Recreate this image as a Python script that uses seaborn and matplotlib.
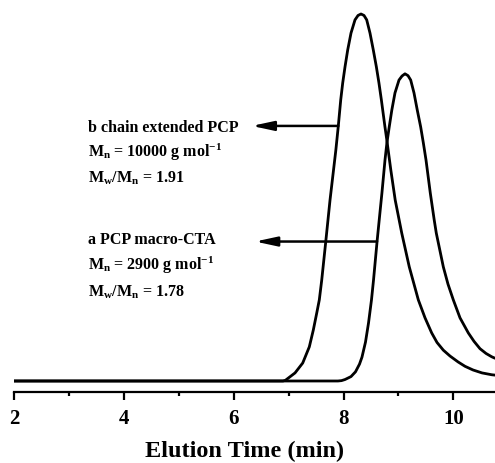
"""
GPC traces of PCP macro-CTA (a) and chain extended PCP (b).
"""

import matplotlib
matplotlib.use("Agg")
import matplotlib.pyplot as plt
import seaborn as sns
import pandas as pd

# --- data (normalised RI signal) ---
b_time = [2.0, 6.898, 6.943, 6.995, 7.117, 7.257, 7.377, 7.450, 7.512, 7.559, 7.603,
          7.676, 7.754, 7.860, 7.905, 7.949, 7.985, 8.027, 8.076, 8.136, 8.209, 8.264,
          8.318, 8.373, 8.422, 8.482, 8.542, 8.598, 8.645, 8.689, 8.752, 8.788, 8.861,
          8.941, 9.060, 9.197, 9.362, 9.484, 9.605, 9.702, 9.817, 9.939, 10.085, 10.212,
          10.358, 10.522, 10.698, 10.758]
b_signal = [0.0, 0.0, 0.002, 0.008, 0.022, 0.049, 0.093, 0.139, 0.185, 0.221, 0.275,
            0.379, 0.493, 0.629, 0.695, 0.766, 0.812, 0.856, 0.902, 0.948, 0.984, 0.996,
            1.0, 0.996, 0.984, 0.948, 0.902, 0.856, 0.812, 0.766, 0.695, 0.657, 0.575,
            0.493, 0.403, 0.311, 0.221, 0.172, 0.131, 0.105, 0.084, 0.068, 0.052, 0.040,
            0.030, 0.022, 0.017, 0.016]

a_time = [2.0, 7.899, 7.963, 8.027, 8.136, 8.218, 8.291, 8.336, 8.400, 8.455, 8.509,
          8.546, 8.610, 8.668, 8.699, 8.755, 8.790, 8.832, 8.879, 8.937, 9.010, 9.065,
          9.119, 9.174, 9.223, 9.283, 9.343, 9.405, 9.453, 9.502, 9.580, 9.651, 9.689,
          9.817, 9.902, 9.999, 10.121, 10.272, 10.376, 10.485, 10.595, 10.698, 10.758]
a_signal = [0.0, 0.0, 0.001, 0.004, 0.012, 0.025, 0.046, 0.065, 0.106, 0.158, 0.221,
            0.275, 0.379, 0.466, 0.512, 0.602, 0.649, 0.692, 0.738, 0.785, 0.820, 0.831,
            0.837, 0.832, 0.820, 0.785, 0.738, 0.692, 0.649, 0.602, 0.512, 0.439, 0.403,
            0.311, 0.264, 0.221, 0.172, 0.131, 0.108, 0.088, 0.075, 0.066, 0.062]

x_ticks = [2, 4, 6, 8, 10]
x_minor = [3, 5, 7, 9]

label_b = ["b chain extended PCP",
           r"M$_\mathregular{n}$ = 10000 g mol$^\mathregular{-1}$",
           r"M$_\mathregular{w}$/M$_\mathregular{n}$ = 1.91"]
label_a = ["a PCP macro-CTA",
           r"M$_\mathregular{n}$ = 2900 g mol$^\mathregular{-1}$",
           r"M$_\mathregular{w}$/M$_\mathregular{n}$ = 1.78"]
label_b_y = [0.679, 0.610, 0.540]
label_a_y = [0.373, 0.302, 0.229]

df = pd.concat([
    pd.DataFrame({"time": b_time, "signal": b_signal, "sample": "b"}),
    pd.DataFrame({"time": a_time, "signal": a_signal, "sample": "a"}),
])

sns.set_style("ticks")
plt.rcParams["font.family"] = ["Liberation Serif", "DejaVu Serif"]
plt.rcParams["font.weight"] = "bold"
plt.rcParams["text.color"] = "black"
plt.rcParams["axes.labelcolor"] = "black"
plt.rcParams["axes.edgecolor"] = "black"
plt.rcParams["xtick.color"] = "black"
plt.rcParams["mathtext.fontset"] = "custom"
plt.rcParams["mathtext.rm"] = "Liberation Serif:bold"
plt.rcParams["mathtext.it"] = "Liberation Serif:bold"
plt.rcParams["mathtext.bf"] = "Liberation Serif:bold"

fig = plt.figure(figsize=(4.95, 4.63), dpi=100)
ax = fig.add_axes([14 / 495, 1 - 392 / 463, 1 - 14 / 495, (392 - 5) / 463])

sns.lineplot(data=df, x="time", y="signal", units="sample", estimator=None,
             color="black", linewidth=2.0, sort=False, ax=ax)

ax.set_xlim(2, 10.758)
ax.set_ylim(-0.030, 1.0245)

# only the bottom axis is drawn
for side in ["left", "top", "right"]:
    ax.spines[side].set_visible(False)
ax.spines["bottom"].set_linewidth(1.6)
ax.set_yticks([])
ax.set_ylabel("")
ax.set_xticks(x_ticks)
ax.set_xticks(x_minor, minor=True)
ax.set_xticklabels([str(t) for t in x_ticks], fontsize=15, fontweight="bold")
ax.tick_params(axis="x", which="major", direction="out", length=6, width=1.6, pad=6)
ax.tick_params(axis="x", which="minor", direction="out", length=3, width=1.6)
ax.set_xlabel("Elution Time (min)", fontsize=17.5, fontweight="bold")
ax.xaxis.set_label_coords(0.48, -0.125)

# annotation blocks
text_x = 3.35
for line, y in zip(label_b, label_b_y):
    ax.text(text_x, y, line, fontsize=11.5, fontweight="bold", va="baseline", ha="left")
for line, y in zip(label_a, label_a_y):
    ax.text(text_x, y, line, fontsize=11.5, fontweight="bold", va="baseline", ha="left")

arrow_style = dict(arrowstyle="-|>,head_length=1.3,head_width=0.28", color="black",
                   lw=1.8, shrinkA=0, shrinkB=0, mutation_scale=10)
ax.annotate("", xy=(6.33, 0.695), xytext=(7.905, 0.695), arrowprops=arrow_style)
ax.annotate("", xy=(6.39, 0.380), xytext=(8.61, 0.380), arrowprops=arrow_style)

plt.savefig("out.png", dpi=100)
plt.close()
